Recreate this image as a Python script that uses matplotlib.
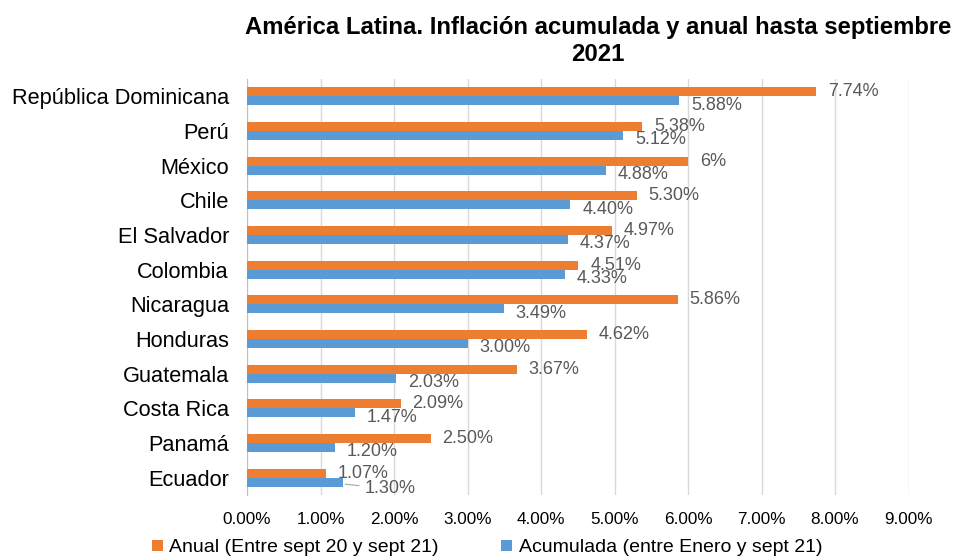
import matplotlib.pyplot as plt
import numpy as np

plt.rcParams['font.family'] = ['Liberation Sans', 'DejaVu Sans']

paises = ['República Dominicana', 'Perú', 'México', 'Chile', 'El Salvador', 'Colombia',
          'Nicaragua', 'Honduras', 'Guatemala', 'Costa Rica', 'Panamá', 'Ecuador']
anual = [7.74, 5.38, 6.00, 5.30, 4.97, 4.51, 5.86, 4.62, 3.67, 2.09, 2.50, 1.07]
acumulada = [5.88, 5.12, 4.88, 4.40, 4.37, 4.33, 3.49, 3.00, 2.03, 1.47, 1.20, 1.30]
etiq_anual = ['7.74%', '5.38%', '6%', '5.30%', '4.97%', '4.51%', '5.86%', '4.62%', '3.67%', '2.09%', '2.50%', '1.07%']
etiq_acum = ['5.88%', '5.12%', '4.88%', '4.40%', '4.37%', '4.33%', '3.49%', '3.00%', '2.03%', '1.47%', '1.20%', '1.30%']
xticks = np.arange(0, 10)

naranja = '#ED7D31'
azul = '#5B9BD5'
gris = '#595959'

fig = plt.figure(figsize=(9.57, 5.6), dpi=100)
ax = fig.add_axes([247/957, 1 - 495/560, (908.5-247)/957, (495-79)/560])

y = np.arange(len(paises))
h = 0.26
ax.barh(y - h/2, anual, height=h, color=naranja, label='Anual (Entre sept 20 y sept 21)', zorder=3)
ax.barh(y + h/2, acumulada, height=h, color=azul, label='Acumulada (entre Enero y sept 21)', zorder=3)

ax.set_ylim(len(paises) - 0.5, -0.5)
ax.set_xlim(0, 9)
ax.set_xticks(xticks)
ax.set_xticklabels(['%.2f%%' % v for v in xticks], fontsize=12.3, color='black')
ax.set_yticks(y)
ax.set_yticklabels(paises, fontsize=15.7, color='black')
ax.tick_params(length=0)
ax.tick_params(axis='y', pad=13)
ax.tick_params(axis='x', pad=12)
ax.grid(axis='x', color='#D9D9D9', linewidth=1, zorder=0)
for s in ['top', 'right', 'bottom']:
    ax.spines[s].set_visible(False)
ax.spines['left'].set_color('#BFBFBF')

# etiquetas de datos (algunas se pisan como en el original)
for i in range(len(paises)):
    ax.text(anual[i] + 0.16, y[i] - h/2, etiq_anual[i], fontsize=13, color=gris,
            va='center', ha='left', zorder=4)
    if paises[i] == 'Ecuador':
        ax.annotate(etiq_acum[i], xy=(acumulada[i], y[i] + h/2 + 0.05),
                    xytext=(acumulada[i] + 0.3, y[i] + h/2 + 0.17),
                    fontsize=13, color=gris, va='center', ha='left', zorder=4,
                    arrowprops=dict(arrowstyle='-', color='#A6A6A6', lw=0.8,
                                    connectionstyle='arc,angleA=180,angleB=0,armA=8,armB=0,rad=0'))
    else:
        ax.text(acumulada[i] + 0.16, y[i] + h/2 + 0.12, etiq_acum[i], fontsize=13, color=gris,
                va='center', ha='left', zorder=4)

fig.text(598/957, 1 - 41/560, 'América Latina. Inflación acumulada y anual hasta septiembre\n2021',
         ha='center', va='center', fontsize=17.2, fontweight='bold', linespacing=1.2)

fig.legend(loc='center', bbox_to_anchor=(487/957, 1 - 548/560), ncol=2, frameon=False,
           fontsize=14, handlelength=0.55, handleheight=0.55, columnspacing=3.2, handletextpad=0.35)

plt.savefig('out.png', dpi=100)
